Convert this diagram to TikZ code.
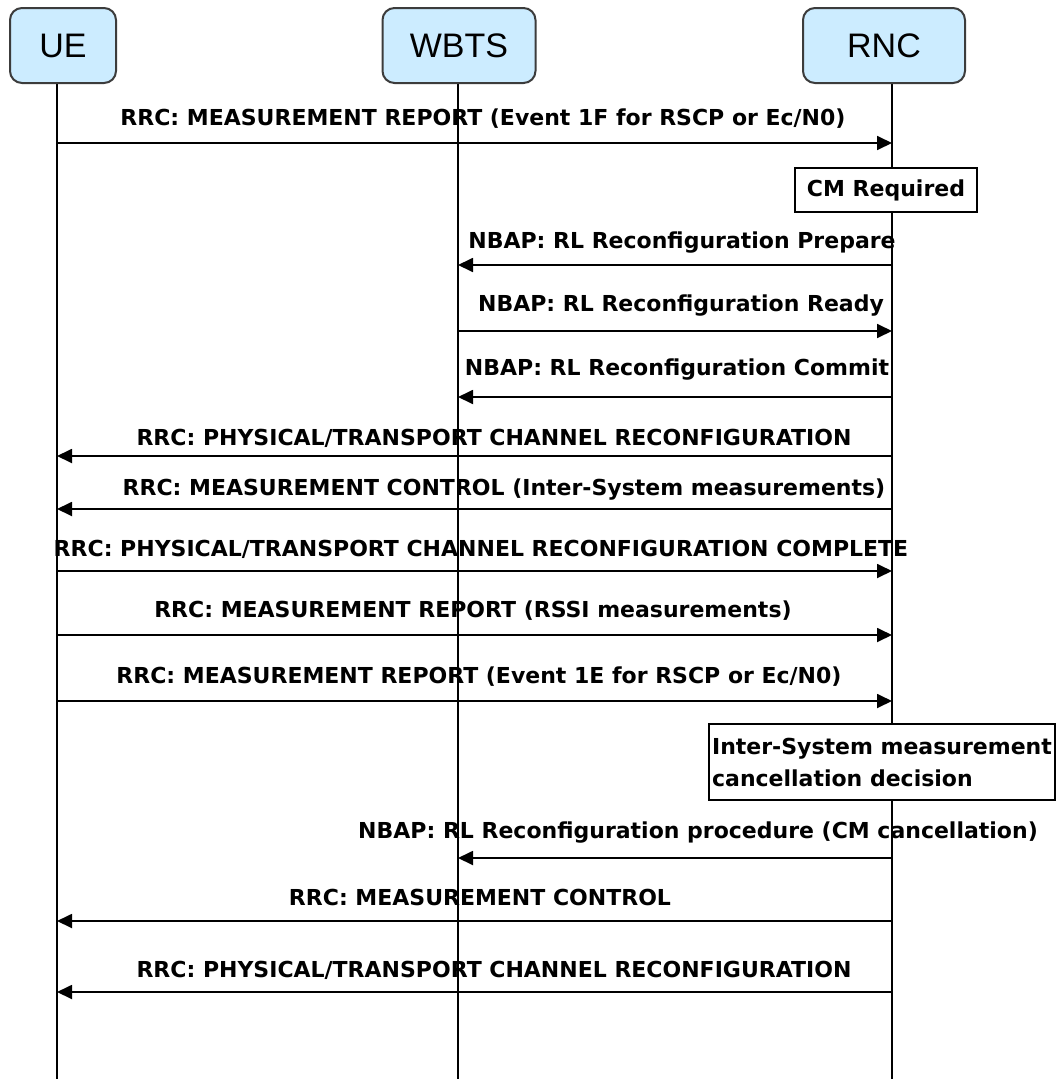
\documentclass[tikz,border=0pt]{standalone}
\usepackage{fontspec}
\setmainfont{DejaVu Sans}
\newfontfamily\headfont{Liberation Sans}
\usetikzlibrary{arrows.meta}
\definecolor{actorblue}{RGB}{204,236,255}
\definecolor{edgegray}{RGB}{60,60,60}
\begin{document}
\begin{tikzpicture}[x=1pt,y=-1pt,
  actor/.style={draw=edgegray, line width=2pt, fill=actorblue, rounded corners=12pt,
    minimum height=75pt, inner sep=0pt, font=\headfont\fontsize{34}{38}\selectfont},
  lifeline/.style={line width=1.4pt, black},
  msg/.style={line width=1.8pt, black, -{Triangle[length=15pt,width=14pt]}},
  lbl/.style={anchor=base, inner sep=0pt, font=\bfseries\fontsize{22}{26}\selectfont},
  notebox/.style={draw, line width=1.6pt, fill=white, inner xsep=3pt, inner ysep=0pt,
    font=\bfseries\fontsize{22}{32}\selectfont}
]
\useasboundingbox[fill=white] (0,0) rectangle (1063,1079);

% lifeline positions
\coordinate (xUE)   at (57,0);
\coordinate (xWBTS) at (458,0);
\coordinate (xRNC)  at (892,0);

% lifelines (drawn first so boxes cover them)
\draw[lifeline] (xUE |- 0,82)   -- (xUE |- 0,1079);
\draw[lifeline] (xWBTS |- 0,82) -- (xWBTS |- 0,1079);
\draw[lifeline] (xRNC |- 0,82)  -- (xRNC |- 0,1079);

% actors
\node[actor, minimum width=106pt] (ue)   at (63,45.5)  {UE};
\node[actor, minimum width=153pt] (wbts) at (459,45.5) {WBTS};
\node[actor, minimum width=162pt] (rnc)  at (884,45.5) {RNC};

% 1
\node[lbl] (l1) at (483,125) {RRC: MEASUREMENT REPORT (Event 1F for RSCP or Ec/N0)};
\draw[msg] (xUE |- 0,143) -- (xRNC |- 0,143);

% CM required
\node[notebox, minimum width=182pt, minimum height=44pt] (cm) at (886,190) {CM Required};

% 2-4
\node[lbl] (l2) at (682,248) {NBAP: RL Reconfiguration Prepare};
\draw[msg] (xRNC |- 0,265) -- (xWBTS |- 0,265);
\node[lbl] (l3) at (681,311) {NBAP: RL Reconfiguration Ready};
\draw[msg] (xWBTS |- 0,331) -- (xRNC |- 0,331);
\node[lbl] (l4) at (677,375) {NBAP: RL Reconfiguration Commit};
\draw[msg] (xRNC |- 0,397) -- (xWBTS |- 0,397);

% 5-9
\node[lbl] (l5) at (494,445) {RRC: PHYSICAL/TRANSPORT CHANNEL RECONFIGURATION};
\draw[msg] (xRNC |- 0,456) -- (xUE |- 0,456);
\node[lbl] (l6) at (504,495) {RRC: MEASUREMENT CONTROL (Inter-System measurements)};
\draw[msg] (xRNC |- 0,509) -- (xUE |- 0,509);
\node[lbl] (l7) at (481,556) {RRC: PHYSICAL/TRANSPORT CHANNEL RECONFIGURATION COMPLETE};
\draw[msg] (xUE |- 0,571) -- (xRNC |- 0,571);
\node[lbl] (l8) at (473,617) {RRC: MEASUREMENT REPORT (RSSI measurements)};
\draw[msg] (xUE |- 0,635) -- (xRNC |- 0,635);
\node[lbl] (l9) at (479,683) {RRC: MEASUREMENT REPORT (Event 1E for RSCP or Ec/N0)};
\draw[msg] (xUE |- 0,701) -- (xRNC |- 0,701);

% decision box
\node[notebox, minimum width=346pt, minimum height=76pt, align=left] (dec) at (882,762)
  {Inter-System measurement\\cancellation decision};

% 10-12
\node[lbl] (l10) at (698,838) {NBAP: RL Reconfiguration procedure (CM cancellation)};
\draw[msg] (xRNC |- 0,858) -- (xWBTS |- 0,858);
\node[lbl] (l11) at (480,905) {RRC: MEASUREMENT CONTROL};
\draw[msg] (xRNC |- 0,921) -- (xUE |- 0,921);
\node[lbl] (l12) at (494,977) {RRC: PHYSICAL/TRANSPORT CHANNEL RECONFIGURATION};
\draw[msg] (xRNC |- 0,992) -- (xUE |- 0,992);
\end{tikzpicture}
\end{document}
